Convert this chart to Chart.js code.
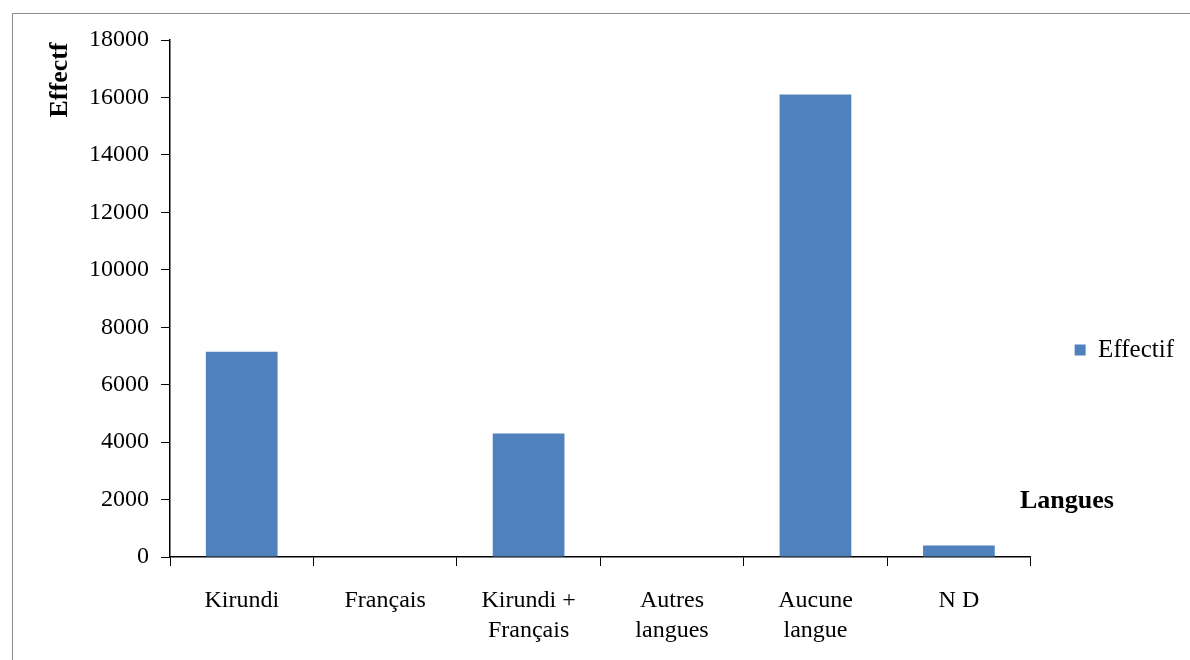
<!DOCTYPE html>
<html>
<head>
<meta charset="utf-8">
<script src="https://cdn.jsdelivr.net/npm/chart.js@4"></script>
<style>
  body { margin: 0; background: #fff; }
  .wrap { position: relative; width: 1190px; height: 660px; overflow: hidden; }
  .frame { position: absolute; left: 12px; top: 13px; width: 1190px; height: 700px; border: 1.5px solid #8c8c8c; box-sizing: border-box; }
  canvas { position: absolute; left: 0; top: 0; }
</style>
</head>
<body>
<div class="wrap">
  <div class="frame"></div>
  <canvas id="chart" width="1190" height="660"></canvas>
</div>
<script>
const categories = [["Kirundi"], ["Français"], ["Kirundi +", "Français"], ["Autres", "langues"], ["Aucune", "langue"], ["N D"]];
const effectif = [7150, 0, 4300, 0, 16100, 400];
const yTicks = [0, 2000, 4000, 6000, 8000, 10000, 12000, 14000, 16000, 18000];

const serif = "'Liberation Serif', 'DejaVu Serif', serif";

// axis titles sit where the original put them, not centred
const axisTitles = {
  id: "axisTitles",
  afterDraw(chart) {
    const ctx = chart.ctx;
    ctx.save();
    ctx.fillStyle = "#000";
    ctx.font = "bold 26px " + serif;
    ctx.translate(60, 80);
    ctx.rotate(-Math.PI / 2);
    ctx.textAlign = "center";
    ctx.textBaseline = "middle";
    ctx.fillText("Effectf", 0, 0);
    ctx.restore();

    ctx.save();
    ctx.fillStyle = "#000";
    ctx.font = "bold 26px " + serif;
    ctx.textAlign = "left";
    ctx.textBaseline = "middle";
    ctx.fillText("Langues", 1020, 501);
    ctx.restore();
  }
};

new Chart(document.getElementById("chart"), {
  type: "bar",
  data: {
    labels: categories,
    datasets: [{
      label: "Effectif",
      data: effectif,
      backgroundColor: "#4f81bd",
      borderWidth: 0,
      categoryPercentage: 0.5,
      barPercentage: 1
    }]
  },
  options: {
    responsive: false,
    animation: false,
    layout: { padding: { left: 20, top: 40, right: 6, bottom: 0 } },
    plugins: {
      tooltip: { enabled: false },
      legend: {
        position: "right",
        align: "center",
        labels: {
          font: { family: serif, size: 25 },
          color: "#000",
          boxWidth: 11,
          boxHeight: 11,
          padding: 44
        }
      }
    },
    scales: {
      x: {
        afterFit(scale) { scale.height = 103; },
        grid: { drawOnChartArea: false, drawTicks: true, tickLength: 9, color: "#000", offset: true },
        border: { color: "#000", width: 1.5 },
        ticks: {
          font: { family: serif, size: 24, lineHeight: 1.25 },
          color: "#000",
          padding: 20,
          maxRotation: 0,
          autoSkip: false
        }
      },
      y: {
        min: 0,
        max: 18000,
        afterBuildTicks(scale) { scale.ticks = yTicks.map(v => ({ value: v })); },
        afterFit(scale) { scale.width = 150; },
        grid: { drawOnChartArea: false, drawTicks: true, tickLength: 9, color: "#000" },
        border: { color: "#000", width: 1.5 },
        ticks: {
          font: { family: serif, size: 24 },
          color: "#000",
          padding: 12,
          callback: v => String(v)
        }
      }
    }
  },
  plugins: [axisTitles]
});
</script>
</body>
</html>
